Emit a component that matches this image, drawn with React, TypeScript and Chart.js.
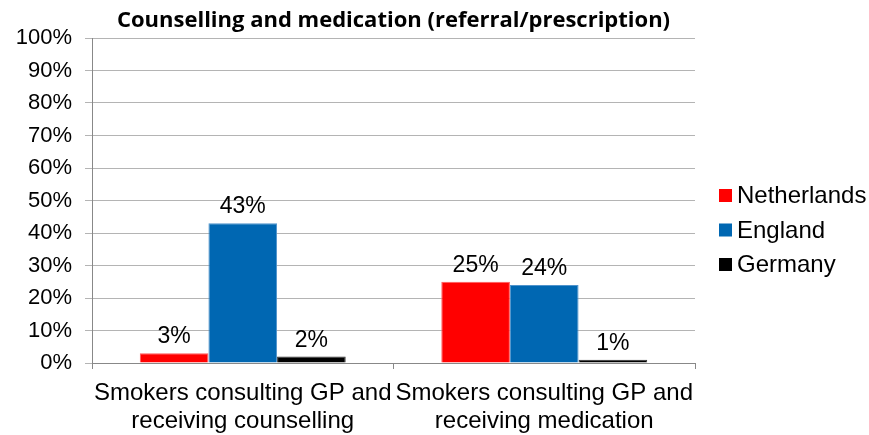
import { useEffect, useRef } from "react";
import { Chart, registerables } from "chart.js";

Chart.register(...registerables);

// Chart data
const categories: string[][] = [
  ["Smokers consulting GP and", "receiving counselling"],
  ["Smokers consulting GP and", "receiving medication"],
];
const seriesNames = ["Netherlands", "England", "Germany"];
const netherlands = [3, 25];
const england = [43, 24];
const germany = [2, 1];
const seriesColors = ["#FF0000", "#0067B2", "#000000"];
const seriesBorders = ["#FF5A5A", "#4F93CC", "#333333"];
const yMax = 100;
const yStep = 10;
const chartTitle = "Counselling and medication (referral/prescription)";

const FONT = "'Liberation Sans', Arial, sans-serif";

// Percent labels above each bar
const valueLabels = {
  id: "valueLabels",
  afterDatasetsDraw(chart: any) {
    const ctx = chart.ctx;
    ctx.save();
    ctx.font = `23px ${FONT}`;
    ctx.fillStyle = "#000";
    ctx.textAlign = "center";
    ctx.textBaseline = "alphabetic";
    chart.data.datasets.forEach((ds: any, i: number) => {
      const meta = chart.getDatasetMeta(i);
      meta.data.forEach((bar: any, j: number) => {
        ctx.fillText(`${ds.data[j]}%`, bar.x, bar.y - 10);
      });
    });
    ctx.restore();
  },
};

// Legend to the right of the plot area
const sideLegend = {
  id: "sideLegend",
  afterDraw(chart: any) {
    const ctx = chart.ctx;
    const area = chart.chartArea;
    const x = area.right + 24;
    const rowGap = 34.5;
    const firstRow = (area.top + area.bottom) / 2 - 5;
    ctx.save();
    ctx.font = `24px ${FONT}`;
    ctx.textBaseline = "middle";
    ctx.textAlign = "left";
    chart.data.datasets.forEach((ds: any, i: number) => {
      const y = firstRow + i * rowGap;
      ctx.fillStyle = ds.backgroundColor;
      ctx.fillRect(x, y - 6.5, 13, 13);
      ctx.fillStyle = "#000";
      ctx.fillText(ds.label, x + 18, y + 1);
    });
    ctx.restore();
  },
};

export default function App() {
  const canvasRef = useRef<HTMLCanvasElement | null>(null);

  useEffect(() => {
    const canvas = canvasRef.current;
    if (!canvas) return;
    const seriesValues = [netherlands, england, germany];
    const chart = new Chart(canvas, {
      type: "bar",
      data: {
        labels: categories,
        datasets: seriesNames.map((name, i) => ({
          label: name,
          data: seriesValues[i],
          backgroundColor: seriesColors[i],
          borderColor: seriesBorders[i],
          borderWidth: 1,
          barPercentage: 1,
          categoryPercentage: 0.683,
        })),
      },
      options: {
        responsive: false,
        animation: false,
        devicePixelRatio: 1,
        layout: { padding: { left: 0, right: 174, top: 0, bottom: 0 } },
        plugins: {
          legend: { display: false },
          tooltip: { enabled: false },
          title: {
            display: true,
            text: chartTitle,
            fullSize: false,
            color: "#000",
            font: { family: "'Open Sans', Lato, sans-serif", size: 22, weight: "bold", lineHeight: 1.2 },
            padding: { top: 8, bottom: 3.6 },
          },
        },
        scales: {
          x: {
            grid: {
              drawOnChartArea: false,
              drawTicks: true,
              tickLength: 6,
              color: "#888888",
              offset: true,
            },
            border: { color: "#888888", width: 1 },
            ticks: {
              color: "#000",
              font: { family: FONT, size: 24, lineHeight: 1.17 },
              padding: 10,
              maxRotation: 0,
              autoSkip: false,
            },
            afterFit(scale: any) {
              scale.height = 72;
            },
          },
          y: {
            min: 0,
            max: yMax,
            ticks: {
              stepSize: yStep,
              color: "#000",
              font: { family: FONT, size: 22 },
              padding: 13,
              callback: (v: any) => `${v}%`,
            },
            grid: {
              color: "#B4B4B4",
              tickLength: 7,
              lineWidth: 1,
            },
            border: { color: "#888888", width: 1 },
            afterFit(scale: any) {
              scale.width = 92;
            },
          },
        },
      },
      plugins: [valueLabels, sideLegend],
    });
    return () => chart.destroy();
  }, []);

  return (
    <div style={{ position: "fixed", left: 0, top: 0, width: 869, height: 435, background: "#fff" }}>
      <canvas ref={canvasRef} width={869} height={435} style={{ display: "block" }} />
    </div>
  );
}
